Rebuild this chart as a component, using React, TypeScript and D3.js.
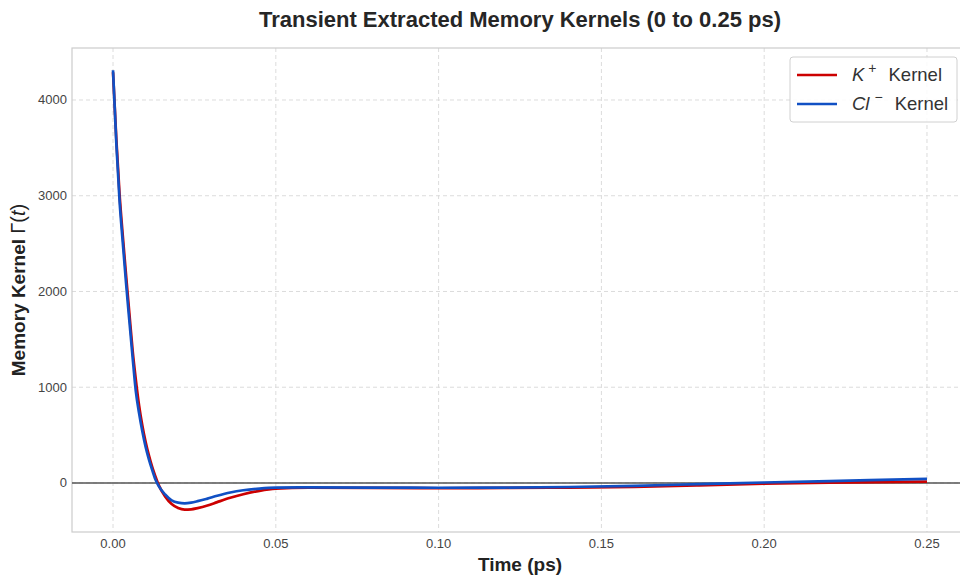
import React from "react";
import * as d3 from "d3";

// Time samples (ps) and extracted memory kernels for each ion
const timePs = [
  0, 0.001, 0.002, 0.003, 0.004, 0.005, 0.006, 0.007, 0.008, 0.009, 0.01,
  0.011, 0.012, 0.013, 0.014, 0.016, 0.018, 0.02, 0.022, 0.024, 0.026, 0.029,
  0.032, 0.036, 0.04, 0.045, 0.05, 0.06, 0.08, 0.1, 0.12, 0.14, 0.16, 0.18,
  0.2, 0.22, 0.25,
];
const kKernel = [
  4290, 3600, 3020, 2580, 2170, 1780, 1390, 1080, 810, 600, 430, 290, 170, 70,
  -20, -140, -220, -262, -278, -275, -262, -235, -200, -155, -118, -82, -60,
  -50, -52, -55, -52, -48, -40, -25, -8, 3, 15,
];
const clKernel = [
  4310, 3560, 2950, 2510, 2090, 1700, 1320, 960, 730, 540, 380, 250, 140, 40,
  -30, -120, -182, -206, -212, -205, -190, -163, -134, -100, -76, -58, -48,
  -45, -48, -50, -48, -42, -30, -12, 5, 20, 42,
];
const xTicks = [0, 0.05, 0.1, 0.15, 0.2, 0.25];
const yTicks = [0, 1000, 2000, 3000, 4000];

const W = 960;
const H = 575;
const left = 72;
const right = 968;
const top = 48;
const bottom = 532;

const RED = "#cc0000";
const BLUE = "#1150c4";

export default function App() {
  const x = d3.scaleLinear().domain([-0.0126, 0.2626]).range([left, right]);
  const y = d3.scaleLinear().domain([-512, 4543]).range([bottom, top]);

  const line = d3
    .line<number>()
    .x((_, i) => x(timePs[i]))
    .y((d) => y(d))
    .curve(d3.curveMonotoneX);

  const font = "'Liberation Sans', Arial, sans-serif";

  return (
    <svg
      width={W}
      height={H}
      style={{ position: "absolute", left: 0, top: 0, background: "#fff" }}
      fontFamily={font}
    >
      <defs>
        <clipPath id="plot">
          <rect x={left} y={top} width={right - left} height={bottom - top} />
        </clipPath>
      </defs>

      {/* grid */}
      {xTicks.map((t) => (
        <line
          key={"gx" + t}
          x1={x(t)}
          x2={x(t)}
          y1={top}
          y2={bottom}
          stroke="#dcdcdc"
          strokeWidth={1}
          strokeDasharray="4,3"
        />
      ))}
      {yTicks.map((t) => (
        <line
          key={"gy" + t}
          x1={left}
          x2={right}
          y1={y(t)}
          y2={y(t)}
          stroke="#dcdcdc"
          strokeWidth={1}
          strokeDasharray="4,3"
        />
      ))}

      {/* frame */}
      <rect
        x={left}
        y={top}
        width={right - left}
        height={bottom - top}
        fill="none"
        stroke="#cccccc"
        strokeWidth={1.2}
      />

      {/* zero reference */}
      <line
        x1={left}
        x2={right}
        y1={y(0)}
        y2={y(0)}
        stroke="#555"
        strokeWidth={1.5}
      />

      <g clipPath="url(#plot)">
        <path d={line(kKernel) || ""} fill="none" stroke={RED} strokeWidth={2.7} strokeLinejoin="round" />
        <path d={line(clKernel) || ""} fill="none" stroke={BLUE} strokeWidth={2.7} strokeLinejoin="round" />
      </g>

      {/* tick labels */}
      {xTicks.map((t) => (
        <text
          key={"tx" + t}
          x={x(t)}
          y={bottom + 16}
          fontSize={13}
          fill="#444"
          textAnchor="middle"
        >
          {t.toFixed(2)}
        </text>
      ))}
      {yTicks.map((t) => (
        <text
          key={"ty" + t}
          x={left - 5}
          y={y(t) + 4.5}
          fontSize={13}
          fill="#444"
          textAnchor="end"
        >
          {t}
        </text>
      ))}

      {/* axis labels */}
      <text
        x={(left + right) / 2}
        y={571}
        fontSize={19}
        fontWeight="bold"
        fill="#222"
        textAnchor="middle"
      >
        Time (ps)
      </text>
      <text
        transform={`translate(25, ${(top + bottom) / 2}) rotate(-90)`}
        fontSize={19}
        fontWeight="bold"
        fill="#222"
        textAnchor="middle"
      >
        Memory Kernel <tspan fontWeight="normal" fontSize={20}>Γ(</tspan>
        <tspan fontWeight="normal" fontStyle="italic" fontSize={20}>t</tspan>
        <tspan fontWeight="normal" fontSize={20}>)</tspan>
      </text>

      {/* title */}
      <text
        x={(left + right) / 2}
        y={27}
        fontSize={22}
        fontWeight="bold"
        fill="#262626"
        textAnchor="middle"
      >
        Transient Extracted Memory Kernels (0 to 0.25 ps)
      </text>

      {/* legend */}
      <g>
        <rect
          x={790}
          y={57}
          width={167}
          height={65}
          rx={3}
          fill="#fff"
          fillOpacity={0.85}
          stroke="#d0d0d0"
        />
        <line x1={797} x2={837} y1={75} y2={75} stroke={RED} strokeWidth={2.7} />
        <line x1={797} x2={837} y1={104} y2={104} stroke={BLUE} strokeWidth={2.7} />
        <text x={852} y={81} fontSize={18.5} fill="#333">
          <tspan fontStyle="italic">K</tspan>
          <tspan dy={-8} dx={4} fontSize={14}>+</tspan>
          <tspan dy={8} dx={12}>Kernel</tspan>
        </text>
        <text x={852} y={110} fontSize={18.5} fill="#333">
          <tspan fontStyle="italic">Cl</tspan>
          <tspan dy={-8} dx={5} fontSize={14}>−</tspan>
          <tspan dy={8} dx={12}>Kernel</tspan>
        </text>
      </g>
    </svg>
  );
}
